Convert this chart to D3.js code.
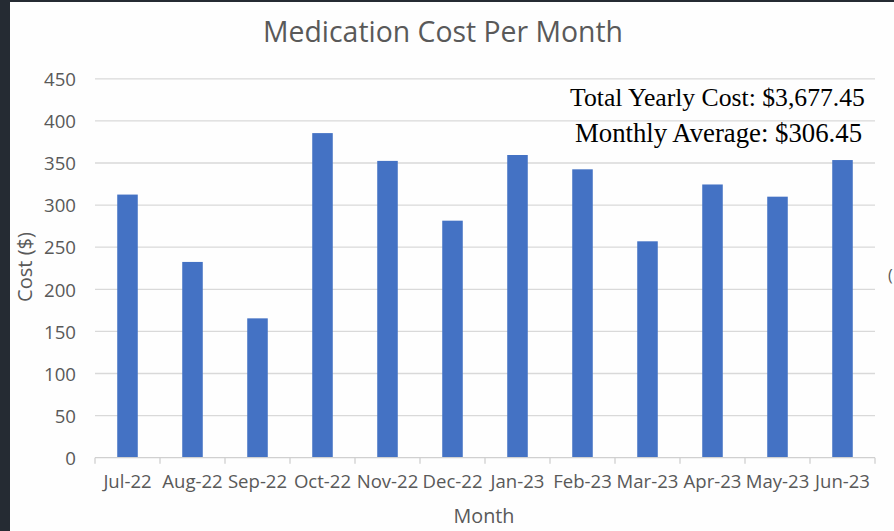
<!DOCTYPE html>
<html>
<head>
<meta charset="utf-8">
<script src="https://cdn.jsdelivr.net/npm/d3@7"></script>
<style>
html,body{margin:0;padding:0;background:#252b33;}
svg{display:block;}
</style>
</head>
<body>
<svg id="chart" width="894" height="531"></svg>
<script>
const months = ["Jul-22","Aug-22","Sep-22","Oct-22","Nov-22","Dec-22","Jan-23","Feb-23","Mar-23","Apr-23","May-23","Jun-23"];
const costs = [312.5, 232.5, 165.5, 385.5, 352.5, 281.5, 359.5, 342.5, 257.0, 324.5, 310.0, 353.5];
const yTicks = [0, 50, 100, 150, 200, 250, 300, 350, 400, 450];
const titleText = "Medication Cost Per Month";
const noteLines = ["Total Yearly Cost: $3,677.45", "Monthly Average: $306.45"];
const xTitle = "Month";
const yTitle = "Cost ($)";

const svg = d3.select("#chart");
svg.append("rect").attr("x",10).attr("y",2).attr("width",884).attr("height",529).attr("fill","#fefefe");

const m = {left:95, right:875, top:0, bottom:457.7};
const x = d3.scaleBand().domain(months).range([m.left, m.right]).paddingInner(0.684).paddingOuter(0.342);
const xb = d3.scaleBand().domain(months).range([m.left, m.right]);
const y = d3.scaleLinear().domain([0,450]).range([m.bottom, 78.8]);

const sans = "'Open Sans', sans-serif";
function fit(sel, w){
  const node = sel.node();
  const fs = parseFloat(sel.attr("font-size"));
  const len = node.getComputedTextLength();
  sel.attr("font-size", (fs*w/len).toFixed(2));
  return sel;
}

// gridlines
svg.append("g").selectAll("line").data(yTicks.filter(d=>d>0)).join("line")
  .attr("x1",m.left).attr("x2",m.right)
  .attr("y1",d=>y(d)).attr("y2",d=>y(d))
  .attr("stroke","#d9d9d9").attr("stroke-width",1.3);

// bars
svg.append("g").selectAll("rect").data(costs).join("rect")
  .attr("x",(d,i)=>x(months[i])).attr("width",x.bandwidth())
  .attr("y",d=>y(d)).attr("height",d=>y(0)-y(d))
  .attr("fill","#4472c4");

// x axis
const xAxis = d3.axisBottom(xb).tickSize(0).tickPadding(0);
const gx = svg.append("g").attr("transform",`translate(0,${m.bottom})`).call(xAxis);
gx.select(".domain").remove();
gx.append("line").attr("x1",m.left).attr("x2",m.right).attr("y1",0).attr("y2",0).attr("stroke","#d0d0d0").attr("stroke-width",1.3);
gx.selectAll("line.bnd").data(d3.range(months.length+1)).join("line").attr("class","bnd")
  .attr("x1",i=>m.left+i*xb.step()).attr("x2",i=>m.left+i*xb.step())
  .attr("y1",0).attr("y2",6).attr("stroke","#d0d0d0").attr("stroke-width",1.3);
gx.selectAll(".tick text").attr("y",30.5).attr("dy",null)
  .attr("font-family",sans).attr("font-size",15).attr("fill","#595959");
{
  const t = gx.selectAll(".tick text").filter(function(){return this.textContent==="Jun-23";});
  fit(t,55);
  const fs = parseFloat(t.attr("font-size"));
  gx.selectAll(".tick text").attr("font-size",fs);
}

// y axis
const yAxis = d3.axisLeft(y).tickValues(yTicks).tickSize(0).tickPadding(0);
const gy = svg.append("g").attr("transform",`translate(76,0)`).call(yAxis);
gy.select(".domain").remove();
gy.selectAll(".tick text").attr("font-family",sans).attr("font-size",15).attr("fill","#595959").attr("dy","0.36em");
{
  const t = gy.selectAll(".tick text").filter(d=>d===450);
  fit(t,32);
  const fs = parseFloat(t.attr("font-size"));
  gy.selectAll(".tick text").attr("font-size",fs);
}

// title
const tt = svg.append("text").attr("x",443).attr("y",42).attr("text-anchor","middle")
  .attr("font-family",sans).attr("font-size",24).attr("fill","#595959").text(titleText);
fit(tt,360);

// axis titles
const xt = svg.append("text").attr("x",484).attr("y",523).attr("text-anchor","middle")
  .attr("font-family",sans).attr("font-size",16).attr("fill","#595959").text(xTitle);
fit(xt,61);
const yt = svg.append("text").attr("transform","translate(32,267) rotate(-90)").attr("text-anchor","middle")
  .attr("font-family",sans).attr("font-size",16).attr("fill","#595959").text(yTitle);
fit(yt,70);

// annotation
const serif = "'Liberation Serif', 'DejaVu Serif', serif";
const n1 = svg.append("text").attr("x",717.5).attr("y",106).attr("text-anchor","middle")
  .attr("font-family",serif).attr("font-size",20).attr("fill","#000").text(noteLines[0]);
fit(n1,295);
const n2 = svg.append("text").attr("x",718.5).attr("y",141.5).attr("text-anchor","middle")
  .attr("font-family",serif).attr("font-size",20).attr("fill","#000").text(noteLines[1]);
fit(n2,287);

// clipped fragment at the right edge of the screenshot
svg.append("text").attr("x",888).attr("y",281).attr("font-family",sans).attr("font-size",16)
  .attr("fill","#595959").text("(");
</script>
</body>
</html>
